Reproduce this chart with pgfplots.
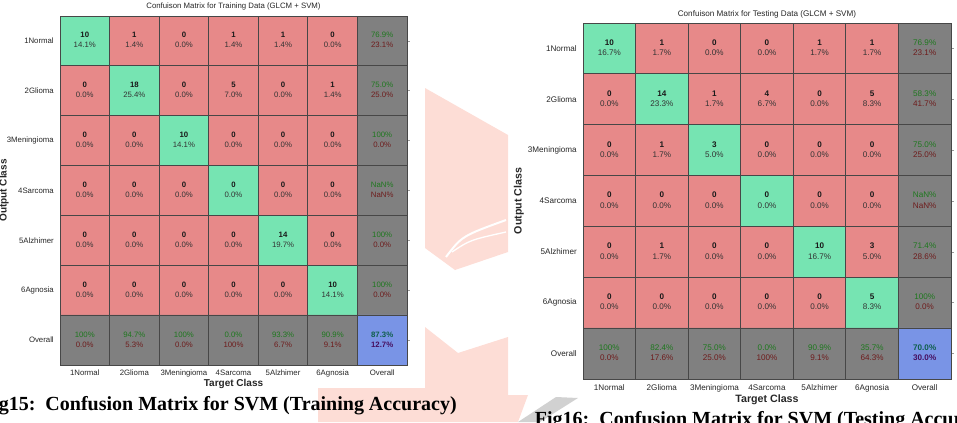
\documentclass[border=0pt]{standalone}
\usepackage{fontspec}
\setmainfont{Liberation Sans}
\newfontfamily\capfont{Liberation Serif}
\usepackage{pgfplots}
\usepackage{pgfplotstable}
\pgfplotsset{compat=1.18}
\definecolor{tgreen}{RGB}{30,120,30}
\definecolor{tred}{RGB}{110,28,28}
\definecolor{bgreen}{RGB}{15,95,75}
\definecolor{bpurp}{RGB}{70,15,95}
\definecolor{wmpink}{RGB}{253,221,214}

% cell colour index: 0 off-diagonal, 1 diagonal, 2 summary, 3 overall
\pgfplotstableread{
x y c
1 1 1
2 1 0
3 1 0
4 1 0
5 1 0
6 1 0
7 1 2
1 2 0
2 2 1
3 2 0
4 2 0
5 2 0
6 2 0
7 2 2
1 3 0
2 3 0
3 3 1
4 3 0
5 3 0
6 3 0
7 3 2
1 4 0
2 4 0
3 4 0
4 4 1
5 4 0
6 4 0
7 4 2
1 5 0
2 5 0
3 5 0
4 5 0
5 5 1
6 5 0
7 5 2
1 6 0
2 6 0
3 6 0
4 6 0
5 6 0
6 6 1
7 6 2
1 7 2
2 7 2
3 7 2
4 7 2
5 7 2
6 7 2
7 7 3
}\cellsT

% Training: counts and percentages
\pgfplotstableread{
x y a b
1 1 10 14.1
2 1 1 1.4
3 1 0 0.0
4 1 1 1.4
5 1 1 1.4
6 1 0 0.0
1 2 0 0.0
2 2 18 25.4
3 2 0 0.0
4 2 5 7.0
5 2 0 0.0
6 2 1 1.4
1 3 0 0.0
2 3 0 0.0
3 3 10 14.1
4 3 0 0.0
5 3 0 0.0
6 3 0 0.0
1 4 0 0.0
2 4 0 0.0
3 4 0 0.0
4 4 0 0.0
5 4 0 0.0
6 4 0 0.0
1 5 0 0.0
2 5 0 0.0
3 5 0 0.0
4 5 0 0.0
5 5 14 19.7
6 5 0 0.0
1 6 0 0.0
2 6 0 0.0
3 6 0 0.0
4 6 0 0.0
5 6 0 0.0
6 6 10 14.1
}\trainA
\pgfplotstableread{
x y a b
7 1 76.9 23.1
7 2 75.0 25.0
7 3 100 0.0
7 4 NaN NaN
7 5 100 0.0
7 6 100 0.0
1 7 100 0.0
2 7 94.7 5.3
3 7 100 0.0
4 7 0.0 100
5 7 93.3 6.7
6 7 90.9 9.1
}\trainB
\pgfplotstableread{
x y a b
7 7 87.3 12.7
}\trainC

% Testing
\pgfplotstableread{
x y a b
1 1 10 16.7
2 1 1 1.7
3 1 0 0.0
4 1 0 0.0
5 1 1 1.7
6 1 1 1.7
1 2 0 0.0
2 2 14 23.3
3 2 1 1.7
4 2 4 6.7
5 2 0 0.0
6 2 5 8.3
1 3 0 0.0
2 3 1 1.7
3 3 3 5.0
4 3 0 0.0
5 3 0 0.0
6 3 0 0.0
1 4 0 0.0
2 4 0 0.0
3 4 0 0.0
4 4 0 0.0
5 4 0 0.0
6 4 0 0.0
1 5 0 0.0
2 5 1 1.7
3 5 0 0.0
4 5 0 0.0
5 5 10 16.7
6 5 3 5.0
1 6 0 0.0
2 6 0 0.0
3 6 0 0.0
4 6 0 0.0
5 6 0 0.0
6 6 5 8.3
}\testA
\pgfplotstableread{
x y a b
7 1 76.9 23.1
7 2 58.3 41.7
7 3 75.0 25.0
7 4 NaN NaN
7 5 71.4 28.6
7 6 100 0.0
1 7 100 0.0
2 7 82.4 17.6
3 7 75.0 25.0
4 7 0.0 100
5 7 90.9 9.1
6 7 35.7 64.3
}\testB
\pgfplotstableread{
x y a b
7 7 70.0 30.0
}\testC

\pgfplotsset{cmbase/.style={
  scale only axis, anchor=north west,
  xmin=0.5,xmax=7.5,ymin=0.5,ymax=7.5, y dir=reverse,
  xtick={1,...,7}, ytick={1,...,7},
  xticklabels={1Normal,2Glioma,3Meningioma,4Sarcoma,5Alzhimer,6Agnosia,Overall},
  yticklabels={1Normal,2Glioma,3Meningioma,4Sarcoma,5Alzhimer,6Agnosia,Overall},
  minor xtick={1.5,2.5,3.5,4.5,5.5,6.5}, minor ytick={1.5,2.5,3.5,4.5,5.5,6.5},
  grid=minor, minor grid style={draw=black!72, line width=0.7pt},
  minor tick length=0pt,
  axis on top,
  axis line style={draw=black!72, line width=0.7pt},
  xtick style={draw=none},
  ytick pos=right, yticklabel pos=left,
  tick align=outside, major tick length=2.25pt,
  ytick style={draw=black!40, line width=0.5pt},
  yticklabel style={anchor=east, inner sep=0pt, xshift=-2.25pt, text=black!85},
  xticklabel style={anchor=center, inner sep=0pt, text=black!85},
  colormap={cmc}{rgb255=(231,137,137) rgb255=(118,228,178) rgb255=(128,128,128) rgb255=(121,148,230)},
  colormap access=direct,
  ylabel={Output Class}, xlabel={Target Class},
}}
\pgfplotsset{txt/.style 2 args={only marks, mark=none, point meta=explicit symbolic,
    nodes near coords={#1},
    every node near coord/.append style={anchor=center, inner sep=0pt, yshift=#2, font=\cellfont}}}
\newcommand\tA{\textcolor{black!90}{\textbf{\pgfplotspointmeta}}}
\newcommand\bA{\textcolor{black!80}{\pgfplotspointmeta\%}}
\newcommand\tB{\textcolor{tgreen}{\pgfplotspointmeta\%}}
\newcommand\bB{\textcolor{tred}{\pgfplotspointmeta\%}}
\newcommand\tC{\textcolor{bgreen}{\textbf{\pgfplotspointmeta\%}}}
\newcommand\bC{\textcolor{bpurp}{\textbf{\pgfplotspointmeta\%}}}

\begin{document}
\begin{tikzpicture}
\path[use as bounding box] (0,0) rectangle (717.75pt,-316.5pt);
\clip (0,0) rectangle (717.75pt,-316.5pt);
\begin{scope}[x=0.75pt,y=-0.75pt]
\fill[wmpink] (425,88) -- (508,135) -- (508,252) -- (455,270) -- (425,248) -- cycle;
\draw[white, line width=1.5pt] (446,257) .. controls (462,236) .. (506,220);
\draw[white, line width=1pt] (452,252) .. controls (470,240) .. (506,232);
\fill[wmpink] (425,327) -- (458,353) -- (508,337) -- (508,395) -- (528,395) -- (518,422) -- (318,422) -- (318,388) -- (425,388) -- cycle;
\fill[black!18] (518,422) -- (540,422) -- (578,398) -- (556,397) -- cycle;
\end{scope}

\def\cellfont{\fontsize{5.85}{7.5}\selectfont}
\begin{axis}[cmbase,
  at={(45pt,-12pt)}, width=260.25pt, height=261.75pt,
  font=\fontsize{5.85}{7.5}\selectfont,
  title={Confuison Matrix for Training Data (GLCM + SVM)},
  every axis title/.style={at={(0.5,1.0287)}, anchor=center, inner sep=0pt, text=black!85},
  xlabel style={at={(0.5,-0.0544)}, anchor=center, inner sep=0pt, font=\bfseries\fontsize{7.5}{9}\selectfont, text=black!85},
  ylabel style={at={(-0.1614,0.5)}, anchor=center, inner sep=0pt, font=\bfseries\fontsize{7.5}{9}\selectfont, text=black!85},
  xticklabel style={yshift=-3.75pt},
]
\addplot[matrix plot*, mesh/cols=7, point meta=explicit] table[x=x,y=y,meta=c] {\cellsT};
\addplot[txt={\tA}{4.3pt}] table[x=x,y=y,meta=a] {\trainA};
\addplot[txt={\bA}{-3.2pt}] table[x=x,y=y,meta=b] {\trainA};
\addplot[txt={\tB}{4.3pt}] table[x=x,y=y,meta=a] {\trainB};
\addplot[txt={\bB}{-3.2pt}] table[x=x,y=y,meta=b] {\trainB};
\addplot[txt={\tC}{4.3pt}] table[x=x,y=y,meta=a] {\trainC};
\addplot[txt={\bC}{-3.2pt}] table[x=x,y=y,meta=b] {\trainC};
\end{axis}

\def\cellfont{\fontsize{6.1}{7.7}\selectfont}
\begin{axis}[cmbase,
  at={(437.25pt,-17.25pt)}, width=276pt, height=267pt,
  font=\fontsize{6.1}{7.7}\selectfont,
  title={Confuison Matrix for Testing Data (GLCM + SVM)},
  every axis title/.style={at={(0.5,1.0253)}, anchor=center, inner sep=0pt, text=black!85},
  xlabel style={at={(0.5,-0.059)}, anchor=center, inner sep=0pt, font=\bfseries\fontsize{8}{9.6}\selectfont, text=black!85},
  ylabel style={at={(-0.174,0.5)}, anchor=center, inner sep=0pt, font=\bfseries\fontsize{8}{9.6}\selectfont, text=black!85},
  xticklabel style={yshift=-4.5pt},
]
\addplot[matrix plot*, mesh/cols=7, point meta=explicit] table[x=x,y=y,meta=c] {\cellsT};
\addplot[txt={\tA}{4.4pt}] table[x=x,y=y,meta=a] {\testA};
\addplot[txt={\bA}{-3.3pt}] table[x=x,y=y,meta=b] {\testA};
\addplot[txt={\tB}{4.4pt}] table[x=x,y=y,meta=a] {\testB};
\addplot[txt={\bB}{-3.3pt}] table[x=x,y=y,meta=b] {\testB};
\addplot[txt={\tC}{4.4pt}] table[x=x,y=y,meta=a] {\testC};
\addplot[txt={\bC}{-3.3pt}] table[x=x,y=y,meta=b] {\testC};
\end{axis}

\node[anchor=base east, inner sep=0pt, font=\capfont\bfseries\fontsize{15}{16}\selectfont] at (342.75pt,-307.5pt) {Fig15:\ \ Confusion Matrix for SVM (Training Accuracy)};
\node[anchor=base west, inner sep=0pt, font=\capfont\bfseries\fontsize{15}{16}\selectfont] at (401pt,-318.75pt) {Fig16:\ \ Confusion Matrix for SVM (Testing Accuracy)};
\end{tikzpicture}
\end{document}
